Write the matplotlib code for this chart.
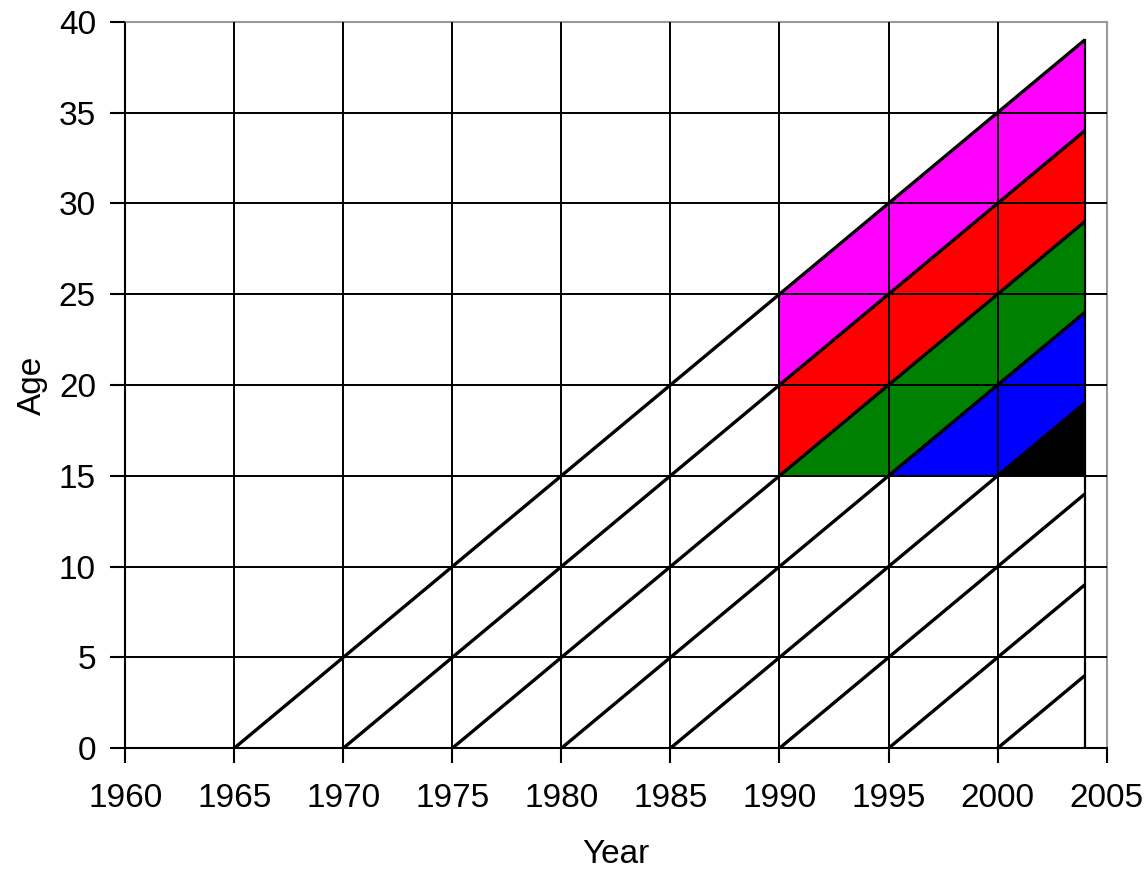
import matplotlib.pyplot as plt
import numpy as np

# Lexis diagram data
cohorts = [1965, 1970, 1975, 1980, 1985, 1990, 1995, 2000]
end_year = 2004
window_start = 1990
min_age = 15
band_colors = ['#FF00FF', '#FF0000', '#008000', '#0000FF', '#000000']
x_ticks = [1960, 1965, 1970, 1975, 1980, 1985, 1990, 1995, 2000, 2005]
y_ticks = [0, 5, 10, 15, 20, 25, 30, 35, 40]

plt.rcParams['font.family'] = ['Liberation Sans', 'DejaVu Sans']

fig = plt.figure(figsize=(11.48, 8.69), dpi=100)
ax = fig.add_axes([0.109, 0.139, 0.855, 0.836])

ax.set_xlim(1960, 2005)
ax.set_ylim(0, 40)

# coloured bands between consecutive cohort lines, above min_age, from window_start
xs = np.array([window_start, 1995, 2000, end_year], dtype=float)
for i, color in enumerate(band_colors):
    upper = xs - cohorts[i]
    lower = np.maximum(xs - cohorts[i + 1], min_age)
    ax.fill_between(xs, lower, upper, where=upper >= lower, interpolate=True,
                    facecolor=color, edgecolor='none', zorder=2)

# cohort life lines
for c in cohorts:
    ax.plot([c, end_year], [0, end_year - c], color='black', lw=2.4,
            solid_capstyle='butt', zorder=4)
ax.plot([end_year, end_year], [0, end_year - cohorts[0]], color='black', lw=1.6, zorder=4)

ax.set_xticks(x_ticks)
ax.set_yticks(y_ticks)
ax.grid(True, color='black', lw=1.4, zorder=3)
ax.set_axisbelow(False)
# no black grid on the top and right border lines
ax.xaxis.get_gridlines()[-1].set_visible(False)
ax.yaxis.get_gridlines()[-1].set_visible(False)
for s in ['top', 'right']:
    ax.spines[s].set_color('#9a9a9a')
    ax.spines[s].set_linewidth(1.5)
for s in ['left', 'bottom']:
    ax.spines[s].set_linewidth(1.5)
ax.tick_params(axis='both', direction='out', length=11, width=1.5, labelsize=24)
ax.tick_params(axis='x', pad=14)
ax.tick_params(axis='y', pad=10)
ax.tick_params(top=False, right=False)

ax.set_xlabel('Year', fontsize=24, labelpad=18)
ax.set_ylabel('Age', fontsize=24, labelpad=8)

fig.savefig('out.png', dpi=100)
